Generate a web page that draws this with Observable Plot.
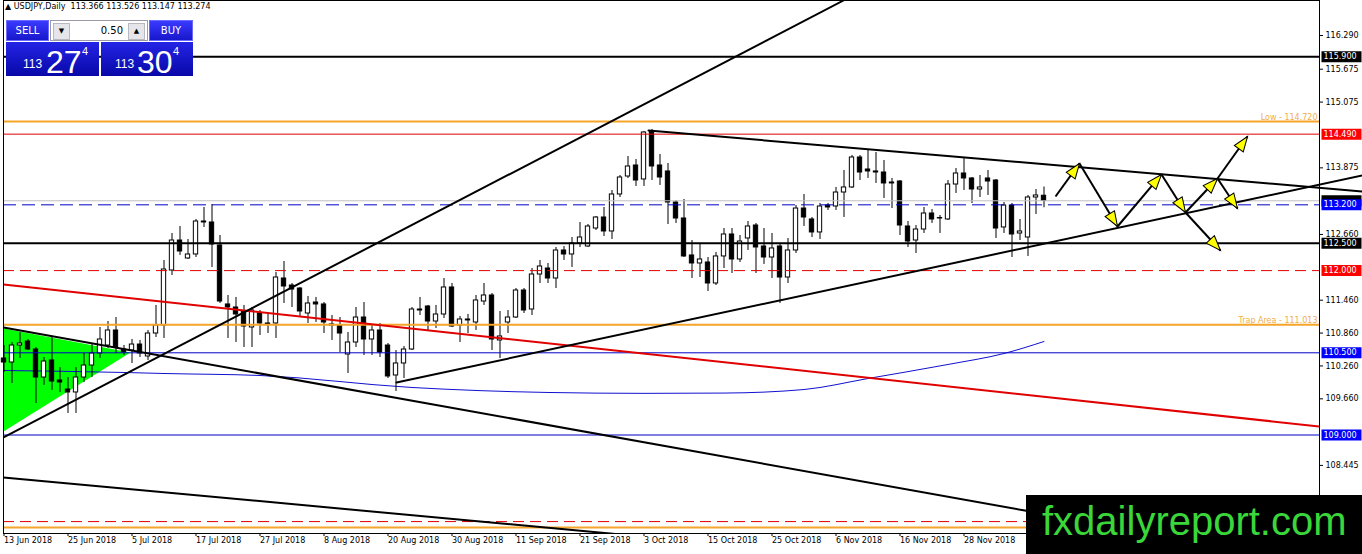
<!DOCTYPE html>
<html><head><meta charset="utf-8">
<script src="https://cdn.jsdelivr.net/npm/d3@7"></script>
<script src="https://cdn.jsdelivr.net/npm/@observablehq/plot@0.6"></script>
<style>
body{margin:0;background:#fff;}
#wrap{position:relative;width:1362px;height:554px;overflow:hidden;background:#fff;}
#wrap svg.chart{position:absolute;left:0;top:0;}
.ov{position:absolute;box-sizing:border-box;}
.hdr{left:5px;top:2px;font:8px "DejaVu Sans",sans-serif;color:#000;white-space:pre;}
.btn{top:20px;height:21px;background:linear-gradient(#3a3aff,#1717cc);border:1px solid #6a6aff;color:#fff;font:10px "DejaVu Sans",sans-serif;text-align:center;line-height:19px;}
.spin{left:50px;top:20px;width:98px;height:21px;background:#fff;border:1px solid #9a9aa8;}
.sb{position:absolute;top:2px;width:15px;height:15px;background:#e6e6ea;border:1px solid #b8b8c0;font:7px "DejaVu Sans";text-align:center;line-height:14px;color:#000;}
.big{top:42px;height:34px;background:linear-gradient(#2424e6,#0808a8);}
.big span{position:absolute;color:#fff;font-family:"Liberation Sans",Arial,sans-serif;line-height:1;}
.wm{left:1026px;top:495px;width:336px;height:59px;background:#000;}
.wm span{position:absolute;left:16px;top:3px;font:40px "Liberation Sans",Arial,sans-serif;color:#3ad63a;line-height:46px;}
</style></head><body><div id="wrap"></div>
<script>
// ---------- data ----------
const opens=[110.396,110.323,110.633,110.706,110.560,110.049,110.360,109.995,109.830,109.776,110.049,110.268,110.487,110.633,110.907,110.560,110.542,110.651,110.433,110.852,111.000,112.002,112.549,112.221,112.294,112.896,112.878,112.458,111.382,111.327,111.254,110.962,111.217,111.017,111.035,111.856,111.728,111.673,111.217,111.418,111.382,111.017,110.998,110.469,110.688,111.144,110.743,110.907,110.633,110.086,110.305,110.560,111.290,111.345,111.071,111.199,111.692,110.998,111.090,111.053,111.436,111.546,110.725,111.053,111.144,111.637,111.290,111.929,112.038,111.856,112.367,112.294,112.495,112.440,112.768,112.969,112.714,113.389,113.717,113.918,113.663,114.539,113.918,113.809,113.243,112.951,112.276,112.130,112.148,111.765,112.258,112.659,112.203,112.586,112.823,112.440,112.239,112.440,111.874,112.367,113.133,112.933,112.696,113.188,113.170,113.425,113.517,114.064,113.845,113.809,113.790,113.608,113.626,112.805,112.549,112.750,113.042,112.960,112.933,113.571,113.772,113.681,113.480,113.681,113.644,112.787,113.188,112.677,112.604,113.334,113.366];
const highs=[110.633,110.688,110.871,110.743,110.597,110.414,110.779,110.232,110.049,110.232,110.487,110.651,110.962,111.071,111.144,110.633,110.743,110.725,110.907,111.364,112.185,112.677,112.805,112.568,112.933,113.152,113.206,112.641,111.546,111.510,111.364,111.327,111.272,111.217,111.966,112.166,111.765,111.692,111.528,111.510,111.418,111.181,111.144,110.871,111.327,111.418,110.998,111.035,110.670,110.542,110.615,111.327,111.510,111.364,111.364,111.856,111.765,111.163,111.199,111.546,111.765,111.582,111.254,111.272,111.673,111.673,112.038,112.185,112.130,112.422,112.440,112.604,112.878,112.841,112.987,113.152,113.462,113.736,114.082,114.028,114.539,114.575,114.119,113.955,113.279,113.298,112.549,112.495,112.239,112.331,112.768,112.768,112.641,112.896,112.860,112.768,112.677,112.495,112.586,113.188,113.389,112.969,113.225,113.225,113.517,113.827,114.101,114.101,114.210,114.155,114.009,113.681,113.644,112.896,112.823,113.152,113.115,113.006,113.644,113.863,114.064,113.699,113.736,113.827,113.663,113.243,113.225,112.933,113.371,113.480,113.526];
const lows=[110.141,109.940,110.396,110.542,109.575,109.904,109.812,109.776,109.393,109.393,109.958,110.049,110.396,110.579,110.487,110.451,110.305,110.414,110.360,110.779,110.761,111.911,112.276,112.203,112.239,112.787,112.057,111.400,110.761,110.688,110.597,110.597,110.816,110.852,110.761,111.400,111.327,111.144,111.035,111.053,110.852,110.725,110.506,110.122,110.597,110.451,110.451,110.414,110.031,109.794,110.031,110.542,111.181,110.907,110.944,111.126,110.962,110.688,110.852,110.907,111.364,110.542,110.396,110.852,111.126,111.217,111.181,111.765,111.765,111.673,112.185,112.057,112.422,112.422,112.732,112.622,112.568,113.334,113.681,113.535,113.535,113.644,113.553,112.841,112.860,112.239,111.856,111.874,111.619,111.728,112.038,111.947,112.148,112.367,111.947,112.112,111.856,111.400,111.765,112.312,112.805,112.604,112.568,113.097,113.097,112.969,113.498,113.644,113.681,113.590,113.316,113.133,112.641,112.422,112.312,112.677,112.860,112.677,112.914,113.407,113.462,113.224,113.334,113.371,112.586,112.677,112.239,112.549,112.258,113.024,113.147];
const closes=[110.323,110.633,110.670,110.560,110.049,110.341,109.976,109.958,109.776,110.049,110.268,110.487,110.743,110.907,110.597,110.506,110.651,110.487,110.852,111.000,112.020,112.549,112.349,112.294,112.896,112.878,112.476,111.436,111.327,111.199,110.980,111.272,111.035,111.035,111.874,111.710,111.655,111.254,111.400,111.382,111.053,110.998,110.852,110.688,111.144,110.743,110.907,110.506,110.068,110.305,110.560,111.290,111.272,111.071,111.199,111.692,110.980,111.108,111.108,111.455,111.546,110.743,110.798,111.144,111.637,111.272,111.929,112.075,111.856,112.367,112.294,112.495,112.604,112.805,112.969,112.714,113.389,113.699,113.900,113.644,114.520,113.900,113.699,113.243,112.951,112.258,112.130,112.203,111.765,112.258,112.659,112.203,112.531,112.805,112.422,112.239,112.404,111.874,112.367,113.133,112.969,112.696,113.170,113.152,113.425,113.517,114.064,113.790,113.809,113.790,113.590,113.590,112.823,112.531,112.750,113.042,112.933,112.951,113.571,113.772,113.681,113.480,113.517,113.626,112.768,113.188,112.659,112.714,113.334,113.371,113.274];

const dateTickIdx=[0,8,16,24,32,40,48,56,64,72,80,88,96,104,112,120];
const dateTickLabels=["13 Jun 2018","25 Jun 2018","5 Jul 2018","17 Jul 2018","27 Jul 2018","8 Aug 2018","20 Aug 2018","30 Aug 2018","11 Sep 2018","21 Sep 2018","3 Oct 2018","15 Oct 2018","25 Oct 2018","6 Nov 2018","16 Nov 2018","28 Nov 2018"];
const priceTicks=[116.290,115.675,115.075,113.875,112.660,111.460,110.860,110.260,109.660,108.445];

// horizontal levels
const blackLevels=[115.900,112.500];
const orangeLevels=[114.720,111.013,107.310];
const redSolidLevels=[114.490];
const redDashLevels=[112.000,107.420];
const blueDashLevels=[113.200];
const blueSolidLevels=[110.500,109.000];
const bidLevel=[113.274];
const namedLevels=[114.720,111.013];
const namedLevelText=["Low - 114.720","Trap Area - 111.013"];
const boxLevels=[115.900,114.490,113.200,112.500,112.000,110.500,109.000];

// trend lines (bar index, price)
const channelUpIdx=[-0.06,104.94], channelUpVal=[108.955,116.929];
const channelDownIdx=[-0.06,128.31], channelDownVal=[110.962,107.604];
const lowerLineIdx=[-0.06,77.06], lowerLineVal=[108.225,107.185];
const redLineIdx=[-0.06,164.44], redLineVal=[111.746,109.155];
const supportIdx=[49.06,169.8], supportVal=[109.958,113.736];
const resistIdx=[80.56,169.8], resistVal=[114.557,113.444];
const greenIdx=[-0.06,15.81,-0.06], greenVal=[110.944,110.505,109.064];
const maIdx=[0,15,20,32,51,68,80,90,100,108,118,125,130];
const maVal=[110.177,110.141,110.122,110.086,109.867,109.776,109.760,109.765,109.830,110.031,110.287,110.487,110.706];

// projected path
const projIdx=[131.44,134.44,139.19,144.69,147.69,151.69,155.44,154.19,152.06];
const projVal=[113.352,113.955,112.805,113.754,113.060,113.681,114.447,113.133,112.367];
const projSegs=[[0,1],[1,2],[2,3],[3,4],[4,5],[5,6],[5,7],[4,8]];

// ---------- chart ----------
const W=1362,H=554,mL=3,mR=43,mT=0,mB=21;
const xDomain=[-0.0625,164.4375], yDomain=[107.2026,116.9287];
const sx=Plot.scale({x:{domain:xDomain,range:[mL,W-mR]}});
const sy=Plot.scale({y:{domain:yDomain,range:[H-mB,mT]}});

const candles=opens.map((o,i)=>({i,o,h:highs[i],l:lows[i],c:closes[i]}));
const segs=projSegs.map(([a,b])=>{
  const x1=projIdx[a],y1=projVal[a],x2=projIdx[b],y2=projVal[b];
  const dx=sx.apply(x2)-sx.apply(x1), dy=sy.apply(y2)-sy.apply(y1);
  return {x1,y1,x2,y2,rot:Math.atan2(dx,-dy)*180/Math.PI};
});
const arrowHead={draw(ctx){ctx.moveTo(0,0);ctx.lineTo(-5.5,15);ctx.lineTo(5.5,15);ctx.closePath();}};
const boxSym={draw(ctx){ctx.rect(2,-5.5,40,11);}};
const boxFill=["#000","#ff0000","#0000ff","#000","#ff0000","#0000ff","#0000ff"];
const labelOf=new Map(dateTickIdx.map((d,k)=>[d,dateTickLabels[k]]));
const orange="#f4a52a", red="#e00000", blue="#0000c8";

const chart=Plot.plot({
  width:W,height:H,marginLeft:mL,marginRight:mR,marginTop:mT,marginBottom:mB,
  x:{domain:xDomain,axis:null},
  y:{domain:yDomain,axis:null},
  style:{fontFamily:"DejaVu Sans, sans-serif",fontSize:"8px",background:"#fff",color:"#000",overflow:"visible"},
  marks:[
    Plot.line(greenIdx,{x:greenIdx,y:greenVal,fill:"#00ff00",stroke:"none"}),
    Plot.line(maIdx,{x:maIdx,y:maVal,stroke:"#1010d0",strokeWidth:1,curve:"monotone-x"}),
    Plot.ruleX(candles,{x:"i",y1:"l",y2:"h",stroke:"#000",strokeWidth:1}),
    Plot.rect(candles,{x1:d=>d.i-0.27,x2:d=>d.i+0.27,y1:"o",y2:"c",fill:d=>d.c>=d.o?"#fff":"#000",stroke:"#000",strokeWidth:1}),
    Plot.ruleY(bidLevel,{y:d=>d,stroke:"#c0c0c0",strokeWidth:1}),
    Plot.ruleY(blueDashLevels,{y:d=>d,stroke:blue,strokeWidth:1,strokeDasharray:"13,6"}),
    Plot.ruleY(blueSolidLevels,{y:d=>d,stroke:blue,strokeWidth:1}),
    Plot.ruleY(redDashLevels,{y:d=>d,stroke:red,strokeWidth:1,strokeDasharray:"11,6"}),
    Plot.ruleY(redSolidLevels,{y:d=>d,stroke:red,strokeWidth:1}),
    Plot.ruleY(orangeLevels,{y:d=>d,stroke:orange,strokeWidth:2}),
    Plot.ruleY(blackLevels,{y:d=>d,stroke:"#000",strokeWidth:2}),
    Plot.line(redLineIdx,{x:redLineIdx,y:redLineVal,stroke:red,strokeWidth:2,clip:true}),
    Plot.line(channelUpIdx,{x:channelUpIdx,y:channelUpVal,stroke:"#000",strokeWidth:2,clip:true}),
    Plot.line(channelDownIdx,{x:channelDownIdx,y:channelDownVal,stroke:"#000",strokeWidth:2,clip:true}),
    Plot.line(lowerLineIdx,{x:lowerLineIdx,y:lowerLineVal,stroke:"#000",strokeWidth:2,clip:true}),
    Plot.line(supportIdx,{x:supportIdx,y:supportVal,stroke:"#000",strokeWidth:2}),
    Plot.line(resistIdx,{x:resistIdx,y:resistVal,stroke:"#000",strokeWidth:2}),
    Plot.link(segs,{x1:"x1",y1:"y1",x2:"x2",y2:"y2",stroke:"#000",strokeWidth:2}),
    Plot.dot(segs,{x:"x2",y:"y2",symbol:arrowHead,rotate:"rot",fill:"#ffff00",stroke:"#000",strokeWidth:1,r:5}),
    Plot.text(namedLevels,{y:d=>d,text:namedLevelText,frameAnchor:"right",textAnchor:"end",lineAnchor:"bottom",dx:-2,dy:-2,fill:"#f0ae4a",fontSize:8}),
    Plot.frame({stroke:"#000",strokeWidth:1}),
    Plot.axisX(dateTickIdx,{anchor:"bottom",tickFormat:d=>labelOf.get(d),textAnchor:"start",tickSize:3,tickPadding:1,fontSize:8,label:null}),
    Plot.axisY(priceTicks,{anchor:"right",tickFormat:d=>d.toFixed(3),tickSize:3,tickPadding:3,fontSize:8,label:null}),
    Plot.dot(bidLevel,{y:d=>d,frameAnchor:"right",symbol:boxSym,fill:"#000",stroke:"none",r:5}),
    Plot.dot(boxLevels,{y:d=>d,frameAnchor:"right",symbol:boxSym,fill:boxFill,stroke:"none",r:5}),
    Plot.text(boxLevels,{y:d=>d,text:d=>d.toFixed(3),frameAnchor:"right",textAnchor:"start",dx:4,fill:"#fff",fontSize:8})
  ]
});
chart.classList.add("chart");
const wrap=document.getElementById("wrap");
wrap.appendChild(chart);

// ---------- overlays (terminal header, trade panel, watermark) ----------
const headerText="▲ USDJPY,Daily  113.366 113.526 113.147 113.274";
const sellBid=["113","27","4"], buyAsk=["113","30","4"];
wrap.insertAdjacentHTML("beforeend",`
<div class="ov hdr">${headerText}</div>
<div class="ov btn" style="left:6px;width:43px;">SELL</div>
<div class="ov spin"><div class="sb" style="left:2px;">▼</div>
 <div style="position:absolute;right:24px;top:0;font:10px 'DejaVu Sans';line-height:19px;">0.50</div>
 <div class="sb" style="right:2px;">▲</div></div>
<div class="ov btn" style="left:149px;width:44px;">BUY</div>
<div class="ov big" style="left:6px;width:93px;">
 <span style="left:17px;top:16px;font-size:12px;">${sellBid[0]}</span>
 <span style="left:40px;top:4px;font-size:32px;">${sellBid[1]}</span>
 <span style="left:76px;top:4px;font-size:11px;">${sellBid[2]}</span></div>
<div class="ov big" style="left:101px;width:92px;">
 <span style="left:14px;top:16px;font-size:12px;">${buyAsk[0]}</span>
 <span style="left:36px;top:4px;font-size:32px;">${buyAsk[1]}</span>
 <span style="left:72px;top:4px;font-size:11px;">${buyAsk[2]}</span></div>
<div class="ov wm"><span>fxdailyreport.com</span></div>
`);
</script>
</body></html>
